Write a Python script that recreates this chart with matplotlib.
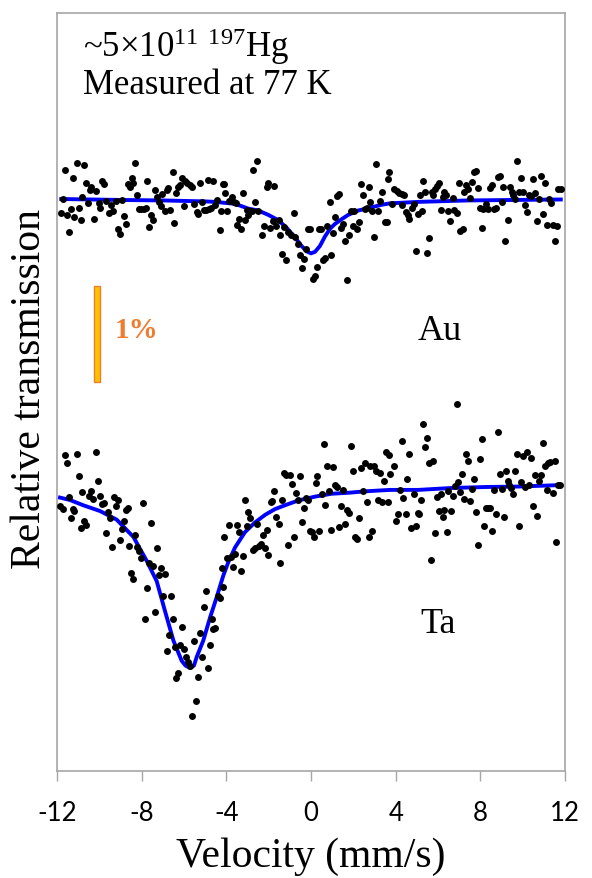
import numpy as np
import matplotlib
matplotlib.use("Agg")
import matplotlib.pyplot as plt
from matplotlib.patches import Rectangle

# Au absorber: velocity (mm/s) and transmission change (%)
au_v = [-11.81, -11.73, -11.64, -11.54, -11.45, -11.34, -11.26, -11.18, -11.07, -10.98,
        -10.88, -10.80, -10.71, -10.63, -10.52, -10.43, -10.38, -10.25, -10.16, -10.03,
        -9.97, -9.86, -9.78, -9.70, -9.56, -9.45, -9.34, -9.23, -9.12, -9.04,
        -8.94, -8.85, -8.76, -8.65, -8.55, -8.47, -8.39, -8.30, -8.20, -8.13,
        -8.02, -7.91, -7.81, -7.75, -7.65, -7.57, -7.48, -7.37, -7.29, -7.20,
        -7.10, -7.02, -6.91, -6.82, -6.74, -6.66, -6.54, -6.46, -6.36, -6.27,
        -6.19, -6.08, -6.00, -5.94, -5.84, -5.72, -5.61, -5.51, -5.40, -5.32,
        -5.24, -5.13, -5.06, -4.96, -4.88, -4.80, -4.72, -4.61, -4.55, -4.46,
        -4.31, -4.24, -4.16,
        -4.11, -4.06, -3.95, -3.86, -3.72, -3.62, -3.54, -3.48, -3.40, -3.31,
        -3.20, -3.12, -3.04, -2.96, -2.88, -2.80, -2.74, -2.65, -2.55, -2.49,
        -2.30, -2.21, -2.10, -2.02, -1.92, -1.81, -1.73, -1.64, -1.53, -1.45,
        -1.37, -1.26, -1.18, -1.07, -0.95, -0.80, -0.76, -0.63, -0.54, -0.44,
        -0.35, -0.25, -0.13, -0.05, 0.11, 0.17, 0.27, 0.38, 0.47, 0.58,
        0.66, 0.77, 0.88, 0.96, 1.05, 1.13, 1.23, 1.32, 1.42, 1.49,
        1.60, 1.70, 1.78, 1.87, 1.97, 2.05, 2.17, 2.25, 2.34, 2.44,
        2.53, 2.63, 2.72, 2.80, 2.86, 2.99, 3.08, 3.18, 3.26, 3.37,
        3.48, 3.57, 3.62, 3.68,
        3.81, 3.94, 4.05, 4.16, 4.28, 4.31, 4.39, 4.47, 4.56, 4.64,
        4.75, 4.86, 4.94, 5.04, 5.13, 5.23, 5.29, 5.38, 5.48, 5.56,
        5.70, 5.78, 5.86, 5.93, 6.05, 6.14, 6.22, 6.30, 6.39, 6.49,
        6.58, 6.69, 6.77, 6.88, 6.97, 7.05, 7.16, 7.24, 7.31, 7.40,
        7.51, 7.62, 7.70, 7.78, 7.90, 7.98, 8.08, 8.14, 8.25, 8.34,
        8.45, 8.53, 8.64, 8.74, 8.82, 8.91, 9.01, 9.08, 9.18, 9.29,
        9.38, 9.48, 9.56, 9.64, 9.75, 9.84, 9.92, 10.00, 10.11, 10.22,
        10.30, 10.39, 10.49, 10.57, 10.68, 10.77, 10.85, 10.96, 11.05, 11.13,
        11.23, 11.32, 11.42, 11.51, 11.62, 11.67, 11.81]
au_d = [-0.146, 0.0, 0.30, -0.17, -0.34, -0.10, 0.215, -0.19, 0.37, -0.09,
        -0.22, 0.02, 0.35, 0.17, -0.04, 0.09, 0.13, -0.21, 0.08, -0.04,
        -0.09, 0.19, 0.16, -0.02, -0.15, -0.06, -0.12, -0.02, -0.31, -0.36,
        -0.01, -0.18, -0.26, 0.16, 0.12, 0.215, 0.17, 0.375, 0.045, -0.10,
        -0.10, -0.10, -0.09, 0.19, -0.29, -0.17, -0.22, 0.09, 0.02, -0.03,
        -0.07, 0.05, -0.13, 0.09, 0.11, -0.11, 0.28, -0.25, 0.06, 0.13,
        0.15, 0.22, -0.07, 0.19, 0.17, 0.15, 0.12, -0.05, -0.14, -0.16,
        0.17, -0.03, -0.11, -0.11, 0.20, -0.10, -0.09, 0.19, -0.06, -0.01,
        -0.32, -0.12, 0.16,
        0.156, 0.06, -0.12, -0.02, 0.02, -0.035, -0.045, -0.27, -0.21, -0.31,
        0.06, -0.22, -0.115, -0.17, -0.125, -0.13, 0.305, -0.03, 0.40, -0.12,
        -0.38, -0.285, 0.13, 0.17, -0.30, -0.225, 0.14, -0.285, -0.215, -0.37,
        -0.57, -0.29, -0.635, -0.34, -0.38, -0.15, -0.40, -0.47, -0.58, -0.72,
        -0.625, -0.52, -0.31, -0.31, -0.83, -0.805, -0.71, -0.31, -0.31, -0.635,
        -0.61, -0.285, -0.035, -0.58, -0.35, -0.19, 0.035, 0.05, -0.30, -0.26,
        -0.44, -0.84, -0.37, -0.12, -0.285, -0.13, -0.31, -0.235, 0.16, 0.04,
        -0.10, -0.09, 0.13, -0.03, -0.12, -0.40, 0.365, -0.12, -0.02, 0.075,
        -0.235, -0.24, 0.21, 0.28,
        -0.05, 0.10, 0.08, 0.06, 0.05, -0.06, 0.045, -0.14, -0.17, -0.21,
        -0.09, -0.05, -0.545, -0.16, 0.045, -0.13, 0.19, 0.075, -0.56, -0.41,
        0.075, 0.04, 0.10, 0.14, 0.17, -0.115, 0.02, 0.075, 0.04, -0.12,
        -0.225, 0.01, -0.115, -0.15, 0.17, -0.33, -0.31, 0.07, 0.145, 0.10,
        0.015, 0.18, 0.28, 0.295, 0.11, -0.09, -0.30, -0.10, -0.05, -0.10,
        0.11, 0.145, -0.10, -0.09, 0.23, 0.24, -0.03, 0.12, -0.44, -0.215,
        0.13, 0.07, 0.04, 0.0, 0.40, 0.07, 0.215, 0.075, -0.06, -0.14,
        0.045, 0.035, 0.21, 0.06, -0.225, 0.0, 0.235, -0.16, 0.165, -0.27,
        0.0, -0.045, -0.27, -0.44, -0.28, 0.10, 0.10]

# Au fit curve
au_fit_v = [-11.8, -9.0, -7.0, -5.0, -4.54, -3.59, -2.96, -2.49, -2.02, -1.55,
            -1.15, -0.76, -0.44, -0.21, 0.0, 0.19, 0.42, 0.66, 0.90, 1.13,
            1.45, 1.76, 2.23, 2.71, 3.34, 3.73, 5.07, 7.4, 11.8]
au_fit_d = [0.0, -0.01, -0.015, -0.025, -0.03, -0.05, -0.10, -0.12, -0.165, -0.22,
            -0.30, -0.40, -0.49, -0.545, -0.566, -0.55, -0.49, -0.39, -0.31, -0.26,
            -0.21, -0.165, -0.12, -0.095, -0.06, -0.045, -0.03, -0.015, -0.005]

# Ta absorber
ta_v = [-11.86, -11.73, -11.64, -11.54, -11.45, -11.35, -11.26, -11.18, -11.07, -10.98,
        -10.88, -10.80, -10.71, -10.63, -10.50, -10.41, -10.28, -10.16, -10.05, -9.97,
        -9.89, -9.78, -9.68, -9.57, -9.50, -9.40, -9.32, -9.23, -9.13, -9.04,
        -8.94, -8.85, -8.76, -8.66, -8.58, -8.49, -8.39, -8.30, -8.20, -8.11,
        -8.03, -7.94, -7.83, -7.75, -7.65, -7.56, -7.46, -7.37, -7.29, -7.18,
        -7.09, -7.01, -6.91, -6.82, -6.72, -6.63, -6.54, -6.44, -6.36, -6.27,
        -6.17, -6.08, -5.98, -5.89, -5.81, -5.72, -5.62, -5.53, -5.43, -5.34,
        -5.24, -5.15, -5.07, -4.98, -4.87, -4.79, -4.69, -4.61, -4.52, -4.41,
        -4.31, -4.22, -4.14, -4.11,
        -3.95, -3.86, -3.78, -3.67, -3.59, -3.50, -3.40, -3.31, -3.21, -3.12,
        -3.02, -2.96, -2.87, -2.74, -2.65, -2.57, -2.47, -2.38, -2.29, -2.19,
        -2.10, -2.02, -1.91, -1.83, -1.73, -1.64, -1.53, -1.45, -1.36, -1.26,
        -1.20, -1.07, -1.01, -0.90, -0.80, -0.73, -0.63, -0.54, -0.43, -0.35,
        -0.25, -0.16, -0.03, 0.03, 0.12, 0.22, 0.30, 0.39, 0.50, 0.60,
        0.68, 0.77, 0.86, 0.96, 1.05, 1.13, 1.21, 1.32, 1.42, 1.51,
        1.60, 1.70, 1.79, 1.89, 1.97, 2.06, 2.16, 2.25, 2.34, 2.44,
        2.53, 2.63, 2.72, 2.80, 2.90, 2.99, 3.08, 3.18, 3.26, 3.35,
        3.45, 3.54, 3.62, 3.68, 3.73,
        3.90, 4.01, 4.09, 4.19, 4.28, 4.36, 4.47, 4.55, 4.64, 4.74,
        4.85, 4.96, 5.04, 5.12, 5.21, 5.29, 5.38, 5.48, 5.56, 5.65,
        5.78, 5.86, 5.95, 6.05, 6.14, 6.22, 6.30, 6.41, 6.49, 6.60,
        6.69, 6.79, 6.88, 6.96, 7.05, 7.15, 7.24, 7.34, 7.43, 7.53,
        7.62, 7.71, 7.81, 7.90, 8.00, 8.08, 8.17, 8.27, 8.38, 8.47,
        8.53, 8.63, 8.72, 8.82, 8.91, 9.01, 9.10, 9.20, 9.29, 9.37,
        9.45, 9.56, 9.64, 9.75, 9.84, 9.92, 10.01, 10.11, 10.20, 10.30,
        10.38, 10.49, 10.56, 10.66, 10.75, 10.85, 10.94, 11.04, 11.13, 11.21,
        11.30, 11.41, 11.51, 11.59, 11.68, 11.78]
ta_d = [-0.20, -0.23, 0.33, 0.25, -0.10, -0.32, -0.23, -0.25, 0.34, 0.11,
        -0.43, -0.05, -0.35, -0.40, -0.09, -0.04, -0.12, 0.36, 0.06, -0.09,
        -0.18, -0.17, -0.48, -0.26, -0.32, -0.62, -0.10, -0.20, -0.135, -0.55,
        -0.44, -0.35, -0.24, -0.215, -0.615, -0.90, -0.96, -0.50, -0.62, -0.67,
        -0.74, -0.17, -1.37, -1.05, -0.79, -0.375, -0.82, -1.30, -0.635, -0.92,
        -0.84, -1.14, -0.91, -1.71, -1.54, -1.14, -1.37, -1.67, -1.99, -1.94,
        -1.65, -1.46, -1.69, -1.77, -1.82, -1.86, -2.39, -1.60, -2.23, -1.98,
        -1.52, -1.77, -1.25, -1.08, -1.885, -1.65, -1.375, -1.48, -1.47, -1.13,
        -1.16, -0.84, -1.04, -0.52,
        -0.74, -0.40, -0.73, -0.83, -0.70, -0.40, -0.47, -0.87, -0.715, -0.14,
        -0.41, -0.26, -0.32, -0.66, -0.63, -0.385, -0.61, -0.59, -0.50, -0.63,
        -0.45, -0.71, -0.16, -0.15, -0.04, -0.31, -0.385, -0.79, -0.13, 0.145,
        0.12, -0.60, 0.13, 0.03, -0.52, -0.06, -0.14, 0.11, -0.36, -0.22,
        -0.11, -0.13, -0.46, -0.47, -0.52, 0.04, 0.11, -0.46, -0.07, 0.445,
        -0.19, 0.22, -0.045, -0.45, 0.205, 0.025, 0.0, -0.42, -0.20, -0.03,
        -0.39, -0.24, -0.27, 0.43, 0.17, -0.52, -0.545, -0.32, 0.195, -0.04,
        0.245, -0.16, -0.52, 0.22, -0.46, 0.22, 0.17, -0.135, 0.145, -0.16,
        0.065, 0.36, -0.16, 0.33, 0.135,
        0.215, -0.35, -0.28, -0.03, 0.48, -0.11, -0.28, 0.08, 0.34, -0.43,
        -0.07, -0.41, -0.27, -0.285, -0.14, 0.66, 0.42, 0.51, 0.25, -0.76,
        0.27, -0.475, -0.10, -0.25, -0.07, -0.315, -0.235, -0.465, -0.04, -0.245,
        -0.095, 0.015, 0.86, 0.055, -0.05, 0.14, -0.125, 0.34, 0.275, -0.15,
        -0.02, 0.08, -0.26, -0.60, 0.295, 0.50, -0.41, -0.22, -0.22, -0.22,
        -0.455, -0.03, -0.28, 0.57, 0.135, -0.02, -0.31, 0.17, 0.065, 0.02,
        -0.015, -0.07, 0.17, 0.34, -0.41, 0.055, 0.325, 0.0, 0.36, 0.025,
        0.305, -0.20, 0.13, -0.30, 0.065, 0.13, 0.46, 0.22, -0.03, 0.25,
        0.265, -0.06, 0.27, -0.57, 0.025, 0.025]

ta_fit_v = [-11.86, -11.39, -10.76, -9.97, -9.18, -8.39, -7.76, -7.29, -6.90, -6.50,
            -6.11, -5.93, -5.72, -5.53, -5.40, -5.09, -4.77, -4.46, -4.14, -3.91,
            -3.59, -3.12, -2.65, -2.17, -1.70, -1.23, -0.60, 0.19, 0.97, 1.76,
            2.55, 3.73, 5.07, 6.64, 8.22, 9.79, 11.78]
ta_fit_d = [-0.11, -0.135, -0.19, -0.25, -0.34, -0.52, -0.77, -0.98, -1.29, -1.60,
            -1.81, -1.86, -1.885, -1.86, -1.77, -1.60, -1.36, -1.15, -0.92, -0.785,
            -0.63, -0.47, -0.37, -0.29, -0.23, -0.19, -0.14, -0.10, -0.07, -0.06,
            -0.045, -0.03, -0.03, -0.01, 0.0, 0.005, 0.02]

ta_offset = -3.0      # % vertical shift of the Ta spectrum
scale_bar = 1.0       # % length of the orange bar
x_ticks = [-12, -8, -4, 0, 4, 8, 12]

serif = "Liberation Serif"
plt.rcParams["mathtext.fontset"] = "custom"
plt.rcParams["mathtext.rm"] = serif
plt.rcParams["mathtext.default"] = "regular"
plt.rcParams["font.family"] = serif

fig = plt.figure(figsize=(5.92, 8.79), dpi=100)
ax = fig.add_axes([57 / 592, 1 - 772 / 879, 508 / 592, 758 / 879])

ax.plot(au_fit_v, au_fit_d, color="#0000FF", lw=2.8, zorder=2)
ax.plot(ta_fit_v, np.array(ta_fit_d) + ta_offset, color="#0000FF", lw=2.8, zorder=2)
ax.scatter(au_v, au_d, s=25, c="black", linewidths=0, zorder=3)
ax.scatter(ta_v, np.array(ta_d) + ta_offset, s=25, c="black", linewidths=0, zorder=3)

# 1% scale bar
ax.add_patch(Rectangle((-10.24, -0.906 - scale_bar), 0.26, scale_bar,
                       facecolor="#FFC000", edgecolor="#ED7D31", lw=1, zorder=2))
ax.text(-9.27, -1.44, "1%", color="#ED7D31", fontsize=21, fontweight="bold",
        family=serif)

ax.text(5.05, -1.46, "Au", fontsize=26, family=serif)
ax.text(5.15, -4.51, "Ta", fontsize=26, family=serif)

ax.text(-10.75, 1.49, "~5×10$^{11}$ $^{197}$Hg", fontsize=25, family=serif)
ax.text(-10.75, 1.10, "Measured at 77 K", fontsize=25, family=serif)

ax.set_xlim(-12, 12)
ax.set_ylim(-5.958, 1.9375)
ax.set_xticks(x_ticks)
ax.set_xticklabels([str(t) for t in x_ticks], family="Lato")
ax.set_yticks([])
ax.tick_params(axis="x", direction="out", length=7, width=1, color="#A6A6A6",
               labelsize=18.5, pad=14)
for s in ax.spines.values():
    s.set_color("#A6A6A6")
    s.set_linewidth(1.2)

fig.text(311 / 592, 1 - 867 / 879, "Velocity (mm/s)", fontsize=30, family=serif,
         ha="center", va="baseline")
fig.text(30 / 592, 1 - 389 / 879, "Relative transmission", fontsize=30, family=serif,
         rotation=90, ha="center", va="center")

fig.savefig("out.png", dpi=100)
